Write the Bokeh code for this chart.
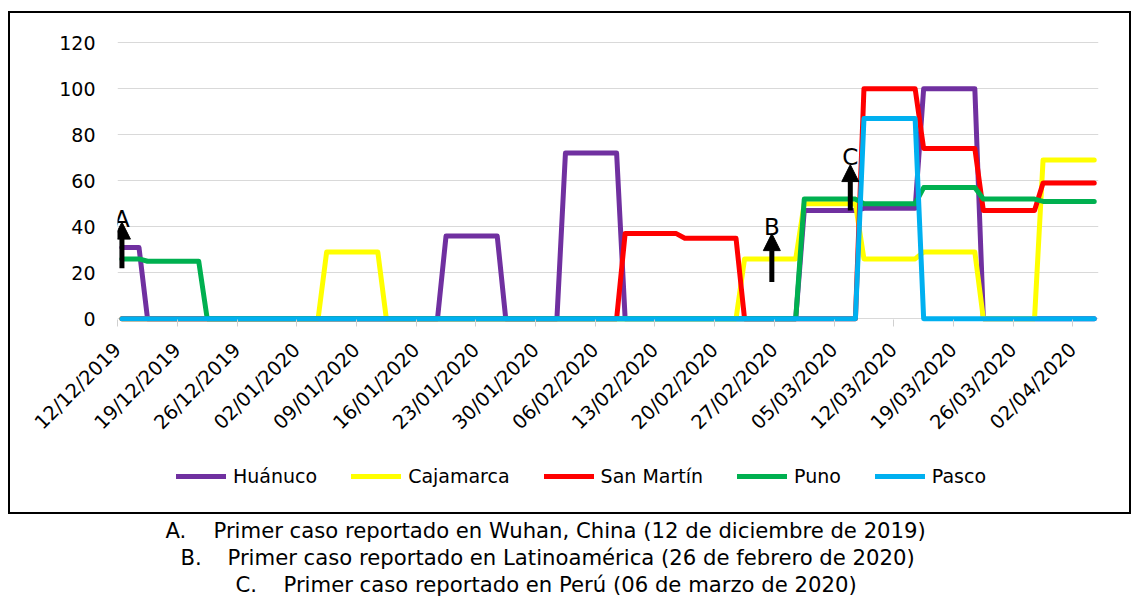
import math
from bokeh.plotting import figure
from bokeh.models import (FixedTicker, Range1d, Legend, LegendItem, Arrow,
                          NormalHead, Label)
from bokeh.layouts import column
from bokeh.embed import file_html
from bokeh.resources import INLINE

# ---------------- data (daily, 12/12/2019 .. 04/04/2020) ----------------
huanuco = [31, 31, 31,
           0, 0, 0, 0, 0, 0, 0,
           0, 0, 0, 0, 0, 0, 0,
           0, 0, 0, 0, 0, 0, 0,
           0, 0, 0, 0, 0, 0, 0,
           0, 0, 0, 0, 0, 0, 0,
           36, 36, 36, 36, 36, 36, 36,
           0, 0, 0, 0, 0, 0, 0,
           72, 72, 72, 72, 72, 72, 72,
           0, 0, 0, 0, 0, 0, 0,
           0, 0, 0, 0, 0, 0, 0,
           0, 0, 0, 0, 0, 0, 0,
           47, 47, 47, 47, 47, 47, 47,
           48, 48, 48, 48, 48, 48, 48,
           100, 100, 100, 100, 100, 100, 100,
           0, 0, 0, 0, 0, 0, 0,
           0, 0, 0, 0, 0, 0, 0]
cajamarca = [0, 0, 0,
             0, 0, 0, 0, 0, 0, 0,
             0, 0, 0, 0, 0, 0, 0,
             0, 0, 0, 0, 0, 0, 0,
             29, 29, 29, 29, 29, 29, 29,
             0, 0, 0, 0, 0, 0, 0,
             0, 0, 0, 0, 0, 0, 0,
             0, 0, 0, 0, 0, 0, 0,
             0, 0, 0, 0, 0, 0, 0,
             0, 0, 0, 0, 0, 0, 0,
             0, 0, 0, 0, 0, 0, 0,
             26, 26, 26, 26, 26, 26, 26,
             50, 50, 50, 50, 50, 50, 50,
             26, 26, 26, 26, 26, 26, 26,
             29, 29, 29, 29, 29, 29, 29,
             0, 0, 0, 0, 0, 0, 0,
             69, 69, 69, 69, 69, 69, 69]
san_martin = [0, 0, 0,
              0, 0, 0, 0, 0, 0, 0,
              0, 0, 0, 0, 0, 0, 0,
              0, 0, 0, 0, 0, 0, 0,
              0, 0, 0, 0, 0, 0, 0,
              0, 0, 0, 0, 0, 0, 0,
              0, 0, 0, 0, 0, 0, 0,
              0, 0, 0, 0, 0, 0, 0,
              0, 0, 0, 0, 0, 0, 0,
              37, 37, 37, 37, 37, 37, 37,
              35, 35, 35, 35, 35, 35, 35,
              0, 0, 0, 0, 0, 0, 0,
              0, 0, 0, 0, 0, 0, 0,
              100, 100, 100, 100, 100, 100, 100,
              74, 74, 74, 74, 74, 74, 74,
              47, 47, 47, 47, 47, 47, 47,
              59, 59, 59, 59, 59, 59, 59]
puno = [26, 26, 26,
        25, 25, 25, 25, 25, 25, 25,
        0, 0, 0, 0, 0, 0, 0,
        0, 0, 0, 0, 0, 0, 0,
        0, 0, 0, 0, 0, 0, 0,
        0, 0, 0, 0, 0, 0, 0,
        0, 0, 0, 0, 0, 0, 0,
        0, 0, 0, 0, 0, 0, 0,
        0, 0, 0, 0, 0, 0, 0,
        0, 0, 0, 0, 0, 0, 0,
        0, 0, 0, 0, 0, 0, 0,
        0, 0, 0, 0, 0, 0, 0,
        52, 52, 52, 52, 52, 52, 52,
        50, 50, 50, 50, 50, 50, 50,
        57, 57, 57, 57, 57, 57, 57,
        52, 52, 52, 52, 52, 52, 52,
        51, 51, 51, 51, 51, 51, 51]
pasco = [0, 0, 0,
         0, 0, 0, 0, 0, 0, 0,
         0, 0, 0, 0, 0, 0, 0,
         0, 0, 0, 0, 0, 0, 0,
         0, 0, 0, 0, 0, 0, 0,
         0, 0, 0, 0, 0, 0, 0,
         0, 0, 0, 0, 0, 0, 0,
         0, 0, 0, 0, 0, 0, 0,
         0, 0, 0, 0, 0, 0, 0,
         0, 0, 0, 0, 0, 0, 0,
         0, 0, 0, 0, 0, 0, 0,
         0, 0, 0, 0, 0, 0, 0,
         0, 0, 0, 0, 0, 0, 0,
         87, 87, 87, 87, 87, 87, 87,
         0, 0, 0, 0, 0, 0, 0,
         0, 0, 0, 0, 0, 0, 0,
         0, 0, 0, 0, 0, 0, 0]

series_names = ["Huánuco", "Cajamarca", "San Martín", "Puno", "Pasco"]
series_values = [huanuco, cajamarca, san_martin, puno, pasco]
series_colors = ["#7030A0", "#FFFF00", "#FF0000", "#00B050", "#00B0F0"]

day_index = list(range(len(huanuco)))
# category boundaries where the weekly date labels sit
tick_pos = [-0.5, 6.5, 13.5, 20.5, 27.5, 34.5, 41.5, 48.5, 55.5, 62.5,
            69.5, 76.5, 83.5, 90.5, 97.5, 104.5, 111.5]
tick_labels = ["12/12/2019", "19/12/2019", "26/12/2019", "02/01/2020",
               "09/01/2020", "16/01/2020", "23/01/2020", "30/01/2020",
               "06/02/2020", "13/02/2020", "20/02/2020", "27/02/2020",
               "05/03/2020", "12/03/2020", "19/03/2020", "26/03/2020",
               "02/04/2020"]
y_ticks = [0, 20, 40, 60, 80, 100, 120]

# event markers (A, B, C)
marker_labels = ["A", "B", "C"]
marker_day = [0, 76.2, 85.4]
marker_y0 = [22, 16, 47]
marker_y1 = [42, 37, 67]
marker_text_y = [43.4, 39.8, 70.5]

caption_keys = ["A.", "B.", "C."]
caption_texts = ["Primer caso reportado en Wuhan, China (12 de diciembre de 2019)",
                 "Primer caso reportado en Latinoamérica (26 de febrero de 2020)",
                 "Primer caso reportado en Perú (06 de marzo de 2020)"]

FONT = "DejaVu Sans"
BL, BR = 107, 31   # shared left / right borders so both frames line up

# ---------------- main chart ----------------
p = figure(width=1119, height=433,
           x_range=Range1d(-0.52, 114.5), y_range=Range1d(-2.5, 120.5),
           output_backend="svg", toolbar_location=None,
           min_border_left=BL, min_border_right=BR,
           min_border_top=28, min_border_bottom=122,
           outline_line_color=None, border_fill_alpha=0)

renderers = []
for vals, col in zip(series_values, series_colors):
    r = p.line(day_index, vals, line_color=col, line_width=5,
               line_join="round", line_cap="round")
    renderers.append(r)

xax = p.xaxis[0]
xax.ticker = FixedTicker(ticks=tick_pos, minor_ticks=[])
xax.major_label_overrides = {t: lab for t, lab in zip(tick_pos, tick_labels)}
xax.major_label_orientation = math.pi / 4
xax.axis_line_color = None
xax.major_tick_in = 5
xax.major_tick_out = 2
xax.major_tick_line_color = "#D0D0D0"
xax.major_tick_line_width = 1
xax.minor_tick_line_color = None
xax.major_label_text_font = FONT
xax.major_label_text_font_size = "19.5px"
xax.major_label_text_color = "#000000"
xax.major_label_standoff = 20

yax = p.yaxis[0]
yax.ticker = FixedTicker(ticks=y_ticks, minor_ticks=[])
yax.axis_line_color = None
yax.major_tick_in = 0
yax.major_tick_out = 0
yax.minor_tick_line_color = None
yax.major_label_text_font = FONT
yax.major_label_text_font_size = "19px"
yax.major_label_text_color = "#000000"
yax.major_label_standoff = 22

p.xgrid.visible = False
p.ygrid.ticker = FixedTicker(ticks=y_ticks, minor_ticks=[])
p.ygrid.grid_line_color = "#D9D9D9"
p.ygrid.grid_line_width = 1

for d, y0, y1, lab, ty in zip(marker_day, marker_y0, marker_y1, marker_labels, marker_text_y):
    p.add_layout(Arrow(end=NormalHead(size=17, fill_color="black", line_color="black", line_width=1),
                       x_start=d, y_start=y0, x_end=d, y_end=y1,
                       line_color="black", line_width=5))
    p.add_layout(Label(x=d, y=ty, text=lab, text_align="center",
                       text_baseline="middle", text_font=FONT,
                       text_font_size="23px", text_color="black"))

# ---------------- legend row (inside the box) ----------------
lg = figure(width=1119, height=66, x_range=Range1d(-10, -9), y_range=Range1d(-10, -9),
            output_backend="svg", toolbar_location=None,
            min_border_left=BL, min_border_right=BR, min_border_top=0, min_border_bottom=6,
            x_axis_location=None, y_axis_location=None,
            outline_line_color=None, border_fill_alpha=0, background_fill_alpha=0)
lg.grid.visible = False
leg_renderers = []
for vals, col in zip(series_values, series_colors):
    leg_renderers.append(lg.line(day_index, vals, line_color=col, line_width=5,
                                 line_join="round", line_cap="round"))
legend = Legend(items=[LegendItem(label=n, renderers=[r]) for n, r in zip(series_names, leg_renderers)],
                orientation="horizontal", location="center_left",
                padding=0, spacing=34, margin=59,
                glyph_width=50, glyph_height=22, label_standoff=7,
                label_text_font=FONT, label_text_font_size="19px",
                label_text_color="#000000",
                border_line_color=None, background_fill_alpha=0)
lg.add_layout(legend)

boxed = column(p, lg, spacing=0, margin=(11, 0, 0, 8),
               styles={"border": "2px solid #000000"})

# ---------------- caption ----------------
c = figure(width=1133, height=83, x_range=Range1d(0, 1133), y_range=Range1d(597, 514),
           output_backend="svg", toolbar_location=None, min_border=0,
           x_axis_location=None, y_axis_location=None, outline_line_color=None,
           border_fill_alpha=0, background_fill_alpha=0)
c.grid.visible = False
key_x = [165, 180, 235]
text_x = [213, 227, 283]
mid_y = [530, 557, 584]
for k, t, kx, tx, my in zip(caption_keys, caption_texts, key_x, text_x, mid_y):
    c.add_layout(Label(x=kx, y=my, text=k, text_align="left", text_baseline="middle",
                       text_font=FONT, text_font_size="21.2px", text_color="black"))
    c.add_layout(Label(x=tx, y=my, text=t, text_align="left", text_baseline="middle",
                       text_font=FONT, text_font_size="21.2px", text_color="black"))

layout = column(boxed, c, spacing=0)
open("out.html", "w").write(file_html(layout, INLINE))
